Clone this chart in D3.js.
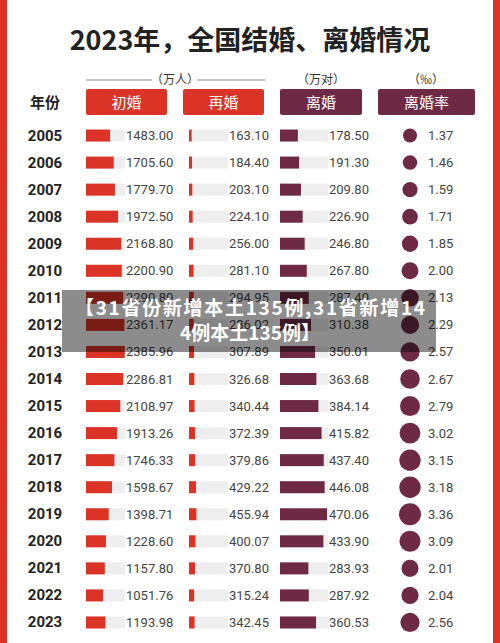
<!DOCTYPE html><html><head><meta charset="utf-8">
<script src="https://d3js.org/d3.v7.min.js"></script>
<style>body{margin:0}svg{display:block}</style></head><body><svg id="c" width="500" height="643"></svg>
<script>
const years=["2005","2006","2007","2008","2009","2010","2011","2012","2013","2014","2015","2016","2017","2018","2019","2020","2021","2022","2023"];
const firstMarriage=[1483.00,1705.60,1779.70,1972.50,2168.80,2200.90,2290.80,2361.17,2385.96,2286.81,2108.97,1913.26,1746.33,1598.67,1398.71,1228.60,1157.80,1051.76,1193.98];
const remarriage=[163.10,184.40,203.10,224.10,256.00,281.10,294.95,286.02,307.89,326.68,340.44,372.39,379.86,429.22,455.94,400.07,370.80,315.24,342.45];
const divorce=[178.50,191.30,209.80,226.90,246.80,267.80,287.40,310.38,350.01,363.68,384.14,415.82,437.40,446.08,470.06,433.90,283.93,287.92,360.53];
const divorceRate=[1.37,1.46,1.59,1.71,1.85,2.00,2.13,2.29,2.57,2.67,2.79,3.02,3.15,3.18,3.36,3.09,2.01,2.04,2.56];
const headers=["初婚","再婚","离婚","离婚率"];
const F="'Noto Sans CJK SC','Noto Sans',sans-serif";
const RED="#db3325",PUR="#6e2a45";
const svg=d3.select("#c");
svg.append("rect").attr("width",500).attr("height",643).attr("fill",RED);
svg.append("rect").attr("x",7).attr("y",0).attr("width",486).attr("height",643).attr("fill","#fff");
svg.append("text").attr("x",250).attr("y",50).attr("text-anchor","middle").attr("font-family",F).attr("font-weight",700).attr("font-size",27).attr("fill","#222").text("2023年，全国结婚、离婚情况");
const y=d3.scaleBand().domain(years).range([122,636]);
const cy=d=>y(d)+y.bandwidth()/2;
const hx=[[86,167,RED],[183,264,RED],[280,362,PUR],[378,475,PUR]];
headers.forEach((h,i)=>{svg.append("rect").attr("x",hx[i][0]).attr("y",89).attr("width",hx[i][1]-hx[i][0]).attr("height",26).attr("rx",2).attr("fill",hx[i][2]);
svg.append("text").attr("x",(hx[i][0]+hx[i][1])/2).attr("y",108).attr("text-anchor","middle").attr("font-family",F).attr("font-size",15).attr("fill","#fff").text(h);});
svg.append("text").attr("x",45).attr("y",108).attr("text-anchor","middle").attr("font-family",F).attr("font-weight",700).attr("font-size",15).attr("fill","#222").text("年份");
const sub=[[175,"（万人）"],[321,"（万对）"],[426,"（‰）"]];
sub.forEach(s=>svg.append("text").attr("x",s[0]).attr("y",84).attr("text-anchor","middle").attr("font-family",F).attr("font-size",12).attr("fill","#333").text(s[1]));
svg.append("line").attr("x1",86).attr("x2",152).attr("y1",80).attr("y2",80).attr("stroke","#555").attr("stroke-width",0.7);
svg.append("line").attr("x1",197).attr("x2",265).attr("y1",80).attr("y2",80).attr("stroke","#555").attr("stroke-width",0.7);
svg.selectAll(".yr").data(years).join("text").attr("x",45).attr("y",d=>cy(d)+5).attr("text-anchor","middle").attr("font-family","Roboto,sans-serif").attr("font-weight",700).attr("font-size",15).attr("fill","#222").text(d=>d);
function barCol(vals,x0,domainMax,width,color){
 const s=d3.scaleLinear().domain([0,domainMax]).range([0,width]);
 svg.selectAll(null).data(years).join("rect").attr("x",x0).attr("y",d=>cy(d)-6).attr("width",width).attr("height",12).attr("fill","#eeeeee");
 svg.selectAll(null).data(years).join("rect").attr("x",x0).attr("y",d=>cy(d)-6).attr("width",(d,i)=>s(vals[i])).attr("height",12).attr("fill",color);
 svg.selectAll(null).data(years).join("text").attr("x",x0+width+1).attr("y",d=>cy(d)+4.5).attr("font-family","Roboto,sans-serif").attr("font-size",13).attr("fill","#444").text((d,i)=>vals[i].toFixed(2));
}
barCol(firstMarriage,86,2400,39,RED);
barCol(remarriage,189,2400,39,RED);
barCol(divorce,280,480,48,PUR);
const r=d3.scaleSqrt().domain([0,3.36]).range([0,11]);
svg.selectAll(null).data(years).join("circle").attr("cx",410).attr("cy",d=>cy(d)).attr("r",(d,i)=>r(divorceRate[i])).attr("fill",PUR);
svg.selectAll(null).data(years).join("text").attr("x",428).attr("y",d=>cy(d)+4.5).attr("font-family","Roboto,sans-serif").attr("font-size",13).attr("fill","#444").text((d,i)=>divorceRate[i].toFixed(2));
svg.append("rect").attr("x",62).attr("y",290).attr("width",374).attr("height",62).attr("fill","#000").attr("opacity",0.45);
const bt=["【31省份新增本土135例,31省新增14","4例本土135例】"];
bt.forEach((t,i)=>svg.append("text").attr("x",250).attr("y",315+i*25).attr("text-anchor","middle").attr("font-family",F).attr("font-weight",700).attr("font-size",19).attr("textLength",i==0?350:null).attr("fill","#fff").text(t));
</script></body></html>
